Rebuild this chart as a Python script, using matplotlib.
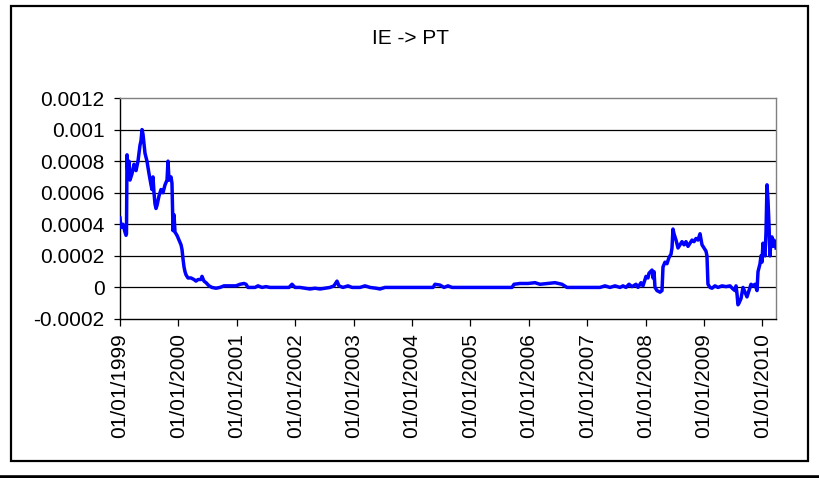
import matplotlib

matplotlib.use("Agg")

import matplotlib.pyplot as plt
from matplotlib.lines import Line2D
from matplotlib.patches import Rectangle

plt.rcParams["font.family"] = ["Liberation Sans", "DejaVu Sans"]

title = "IE -> PT"

# time in decimal years
years = [
    1999.000, 1999.017, 1999.051, 1999.086, 1999.103, 1999.111, 1999.120, 1999.137,
    1999.154, 1999.171, 1999.205, 1999.240, 1999.274, 1999.308, 1999.342, 1999.360,
    1999.377, 1999.394, 1999.428, 1999.462, 1999.497, 1999.531, 1999.548, 1999.565,
    1999.582, 1999.599, 1999.616, 1999.634, 1999.668, 1999.702, 1999.736, 1999.771,
    1999.805, 1999.822, 1999.839, 1999.873, 1999.890, 1999.908, 1999.925, 1999.942,
    1999.976, 2000.010, 2000.045, 2000.062, 2000.079, 2000.096, 2000.113, 2000.130,
    2000.164, 2000.216, 2000.267, 2000.301, 2000.336, 2000.387, 2000.404, 2000.438,
    2000.473, 2000.524, 2000.575, 2000.644, 2000.712, 2000.781, 2000.884, 2000.986,
    2001.055, 2001.123, 2001.158, 2001.192, 2001.312, 2001.363, 2001.432, 2001.500,
    2001.568, 2001.740, 2001.894, 2001.945, 2001.997, 2002.082, 2002.168, 2002.253,
    2002.339, 2002.425, 2002.510, 2002.596, 2002.664, 2002.716, 2002.750, 2002.818,
    2002.904, 2002.973, 2003.110, 2003.195, 2003.281, 2003.384, 2003.452, 2003.538,
    2003.709, 2003.966, 2004.360, 2004.394, 2004.479, 2004.548, 2004.616, 2004.685,
    2004.822, 2005.164, 2005.507, 2005.712, 2005.747, 2005.849, 2005.986, 2006.106,
    2006.192, 2006.329, 2006.449, 2006.568, 2006.654, 2006.791, 2007.048, 2007.219,
    2007.305, 2007.390, 2007.476, 2007.562, 2007.613, 2007.664, 2007.716, 2007.767,
    2007.836, 2007.870, 2007.921, 2007.955, 2008.007, 2008.041, 2008.058, 2008.110,
    2008.127, 2008.144, 2008.161, 2008.195, 2008.247, 2008.281, 2008.298, 2008.332,
    2008.366, 2008.401, 2008.435, 2008.452, 2008.469, 2008.486, 2008.521, 2008.555,
    2008.589, 2008.623, 2008.658, 2008.692, 2008.726, 2008.760, 2008.795, 2008.829,
    2008.863, 2008.897, 2008.932, 2008.966, 2009.000, 2009.034, 2009.051, 2009.068,
    2009.103, 2009.137, 2009.188, 2009.240, 2009.308, 2009.377, 2009.445, 2009.497,
    2009.531, 2009.548, 2009.565, 2009.582, 2009.599, 2009.634, 2009.668, 2009.702,
    2009.736, 2009.771, 2009.805, 2009.839, 2009.873, 2009.908, 2009.925, 2009.959,
    2009.976, 2009.993, 2010.010, 2010.027, 2010.045, 2010.062, 2010.079, 2010.096,
    2010.113, 2010.130, 2010.147, 2010.164, 2010.182, 2010.199, 2010.216, 2010.233,
]

values = [
    0.00044, 0.00038, 0.00040, 0.00035, 0.00033, 0.00034, 0.00084, 0.00070,
    0.00080, 0.00068, 0.00072, 0.00078, 0.00074, 0.00080, 0.00090, 0.00093,
    0.00100, 0.00097, 0.00085, 0.00080, 0.00072, 0.00065, 0.00062, 0.00070,
    0.00060, 0.00053, 0.00050, 0.00052, 0.00058, 0.00062, 0.00060, 0.00065,
    0.00068, 0.00080, 0.00068, 0.00070, 0.00066, 0.00036, 0.00046, 0.00035,
    0.00033, 0.00030, 0.00027, 0.00024, 0.00018, 0.00013, 0.00010, 0.00008,
    0.00006, 0.00006, 0.00005, 0.00004, 0.00005, 0.00005, 0.00007, 0.00004,
    0.00003, 0.00001, 0.0, -0.000005, 0.0, 0.00001, 0.00001, 0.00001,
    0.00002, 0.000025, 0.00002, 0.0, 0.0, 0.00001, 0.0, 0.000005,
    0.0, 0.0, 0.0, 0.00002, 0.0, 0.0, -0.000005, -0.00001,
    -0.000005, -0.00001, -0.000005, 0.0, 0.00001, 0.00004, 0.00001, 0.0,
    0.00001, 0.0, 0.0, 0.00001, 0.0, -0.000005, -0.00001, 0.0,
    0.0, 0.0, 0.0, 0.00002, 0.000015, 0.0, 0.00001, 0.0,
    0.0, 0.0, 0.0, 0.0, 0.00002, 0.000025, 0.000025, 0.00003,
    0.00002, 0.000025, 0.00003, 0.00002, 0.0, 0.0, 0.0, 0.0,
    0.00001, 0.0, 0.00001, 0.0, 0.00001, 0.0, 0.00002, 0.000005,
    0.00002, 0.0, 0.00003, 0.00001, 0.00007, 0.00006, 0.00009, 0.00011,
    0.00006, 0.00010, 0.0, -0.00002, -0.00003, -0.00002, 0.00013, 0.00016,
    0.00015, 0.00019, 0.00021, 0.00025, 0.00037, 0.00034, 0.00030, 0.00025,
    0.00027, 0.00029, 0.00027, 0.00029, 0.00026, 0.00028, 0.00030, 0.00029,
    0.00031, 0.00030, 0.00034, 0.00027, 0.00025, 0.00023, 0.00020, 0.00002,
    0.0, -0.000005, 0.00001, 0.0, 0.00001, 0.000005, 0.00001, -0.00001,
    -0.00002, 0.00001, -0.00004, -0.00011, -0.00010, -0.00007, 0.0, -0.00003,
    -0.00006, -0.00002, 0.00002, 0.00001, 0.00002, -0.00002, 0.00010, 0.00015,
    0.00020, 0.00016, 0.00028, 0.00022, 0.00020, 0.00035, 0.00065, 0.00055,
    0.00040, 0.00020, 0.00030, 0.00032, 0.00026, 0.00030, 0.00028, 0.00025,
]

tick_years = list(range(1999, 2011))
y_ticks = [-0.0002, 0.0, 0.0002, 0.0004, 0.0006, 0.0008, 0.001, 0.0012]

fig = plt.figure(figsize=(8.2, 4.78), dpi=100)
W, H = 820, 478

# outer chart frame + thick rule at the bottom
fig.patches.append(Rectangle((11.5 / W, 1 - 461 / H), (808 - 11.5) / W, (461 - 5.5) / H,
                             transform=fig.transFigure, fill=False,
                             edgecolor="black", linewidth=1.6))
fig.lines.append(Line2D([0, 1], [1 - 476.5 / H] * 2, transform=fig.transFigure,
                        color="black", linewidth=2.6))

ax = fig.add_axes([120 / W, 1 - 319 / H, (776 - 120) / W, (319 - 98) / H])

for yv in y_ticks[1:-1]:
    ax.axhline(yv, color="black", linewidth=0.9, zorder=1)

ax.plot(years, values, color="#0000FF", linewidth=2.5, zorder=3,
        solid_joinstyle="round")

ax.set_xlim(1999.0, 2010.233)
ax.set_ylim(-0.0002, 0.0012)

ax.set_yticks(y_ticks)
ax.set_yticklabels([f"{v:g}" for v in y_ticks], fontsize=15)
ax.set_xticks(tick_years)
ax.set_xticklabels([f"01/01/{y}" for y in tick_years], rotation=90, fontsize=15)

ax.tick_params(axis="y", length=4, width=0.9, pad=7, direction="out")
ax.tick_params(axis="x", length=5, width=0.9, pad=5, direction="out")

for side in ("top", "right"):
    ax.spines[side].set_color("#808080")
    ax.spines[side].set_linewidth(1.0)
for side in ("left", "bottom"):
    ax.spines[side].set_color("black")
    ax.spines[side].set_linewidth(1.0)

fig.text(411 / W, 1 - 38 / H, title, ha="center", va="center", fontsize=15)

fig.savefig("out.png", dpi=100)
